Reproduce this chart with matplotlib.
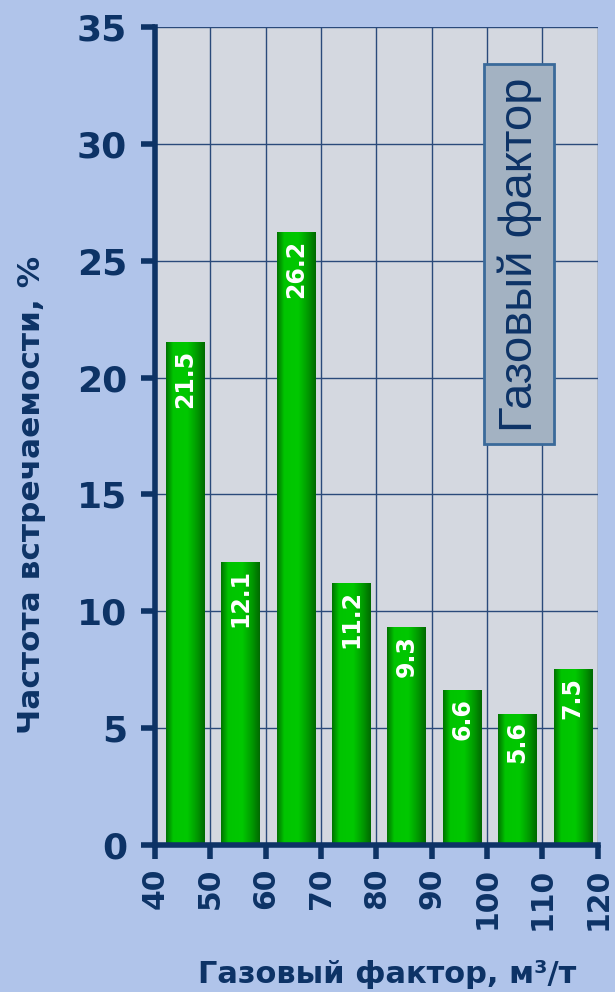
import numpy as np
import matplotlib
matplotlib.use('Agg')
import matplotlib.pyplot as plt
from matplotlib.colors import LinearSegmentedColormap

# частота встречаемости по интервалам газового фактора
bin_left = [40, 50, 60, 70, 80, 90, 100, 110]
freq = [21.5, 12.1, 26.2, 11.2, 9.3, 6.6, 5.6, 7.5]
x_ticks = [40, 50, 60, 70, 80, 90, 100, 110, 120]
y_ticks = [0, 5, 10, 15, 20, 25, 30, 35]

navy = '#0d3366'
bg = '#b0c4ea'

fig = plt.figure(figsize=(6.15, 9.92), dpi=100)
fig.patch.set_facecolor(bg)
ax = fig.add_axes([0.252, 0.148, 0.72, 0.825])
ax.set_facecolor('#d4d8e0')

# зелёный градиент по ширине столбца
green = LinearSegmentedColormap.from_list(
    'bar_green', [(0.0, '#007400'), (0.18, '#00c400'), (0.55, '#00c800'),
                  (0.8, '#009a00'), (1.0, '#006a00')])
grad = np.linspace(0, 1, 64).reshape(1, -1)

for x0, h in zip(bin_left, freq):
    ax.imshow(grad, cmap=green, extent=[x0 + 2, x0 + 9, 0, h],
              aspect='auto', origin='lower', zorder=3)
    ax.annotate(f'{h}', xy=(x0 + 5.5, h), xytext=(0, -5),
                textcoords='offset points', rotation=90,
                ha='center', va='top', color='white',
                fontsize=17, fontweight='bold', zorder=4)

ax.set_xlim(40, 120)
ax.set_ylim(0, 35)
ax.set_xticks(x_ticks)
ax.set_yticks(y_ticks)
ax.set_xticklabels([str(v) for v in x_ticks], rotation=90)
ax.grid(True, color='#2a4a7a', linewidth=1, zorder=1)
ax.set_axisbelow(True)

for s in ['top', 'right']:
    ax.spines[s].set_visible(False)
for s in ['left', 'bottom']:
    ax.spines[s].set_color(navy)
    ax.spines[s].set_linewidth(4)
    ax.spines[s].set_zorder(5)

ax.tick_params(axis='both', colors=navy, length=10, width=4, direction='out')
ax.tick_params(axis='y', labelsize=26, pad=10)
ax.tick_params(axis='x', labelsize=21.5, pad=6)
for lab in ax.get_xticklabels() + ax.get_yticklabels():
    lab.set_fontweight('bold')

ax.set_ylabel('Частота встречаемости, %', fontsize=22.5, fontweight='bold',
              color=navy)
ax.yaxis.set_label_coords(-0.246, 0.428)
ax.set_xlabel('Газовый фактор, м³/т', fontsize=22, fontweight='bold',
              color=navy)
ax.xaxis.set_label_coords(0.525, -0.140)

ax.text(0.823, 0.722, 'Газовый фактор', transform=ax.transAxes, rotation=90,
        ha='center', va='center', fontsize=34, family='Liberation Sans',
        color=navy, zorder=6,
        bbox=dict(boxstyle='square,pad=0.27', facecolor='#a3b2c2',
                  edgecolor='#3a6a9a', linewidth=2))

fig.savefig('out.png', dpi=100, facecolor=bg)
